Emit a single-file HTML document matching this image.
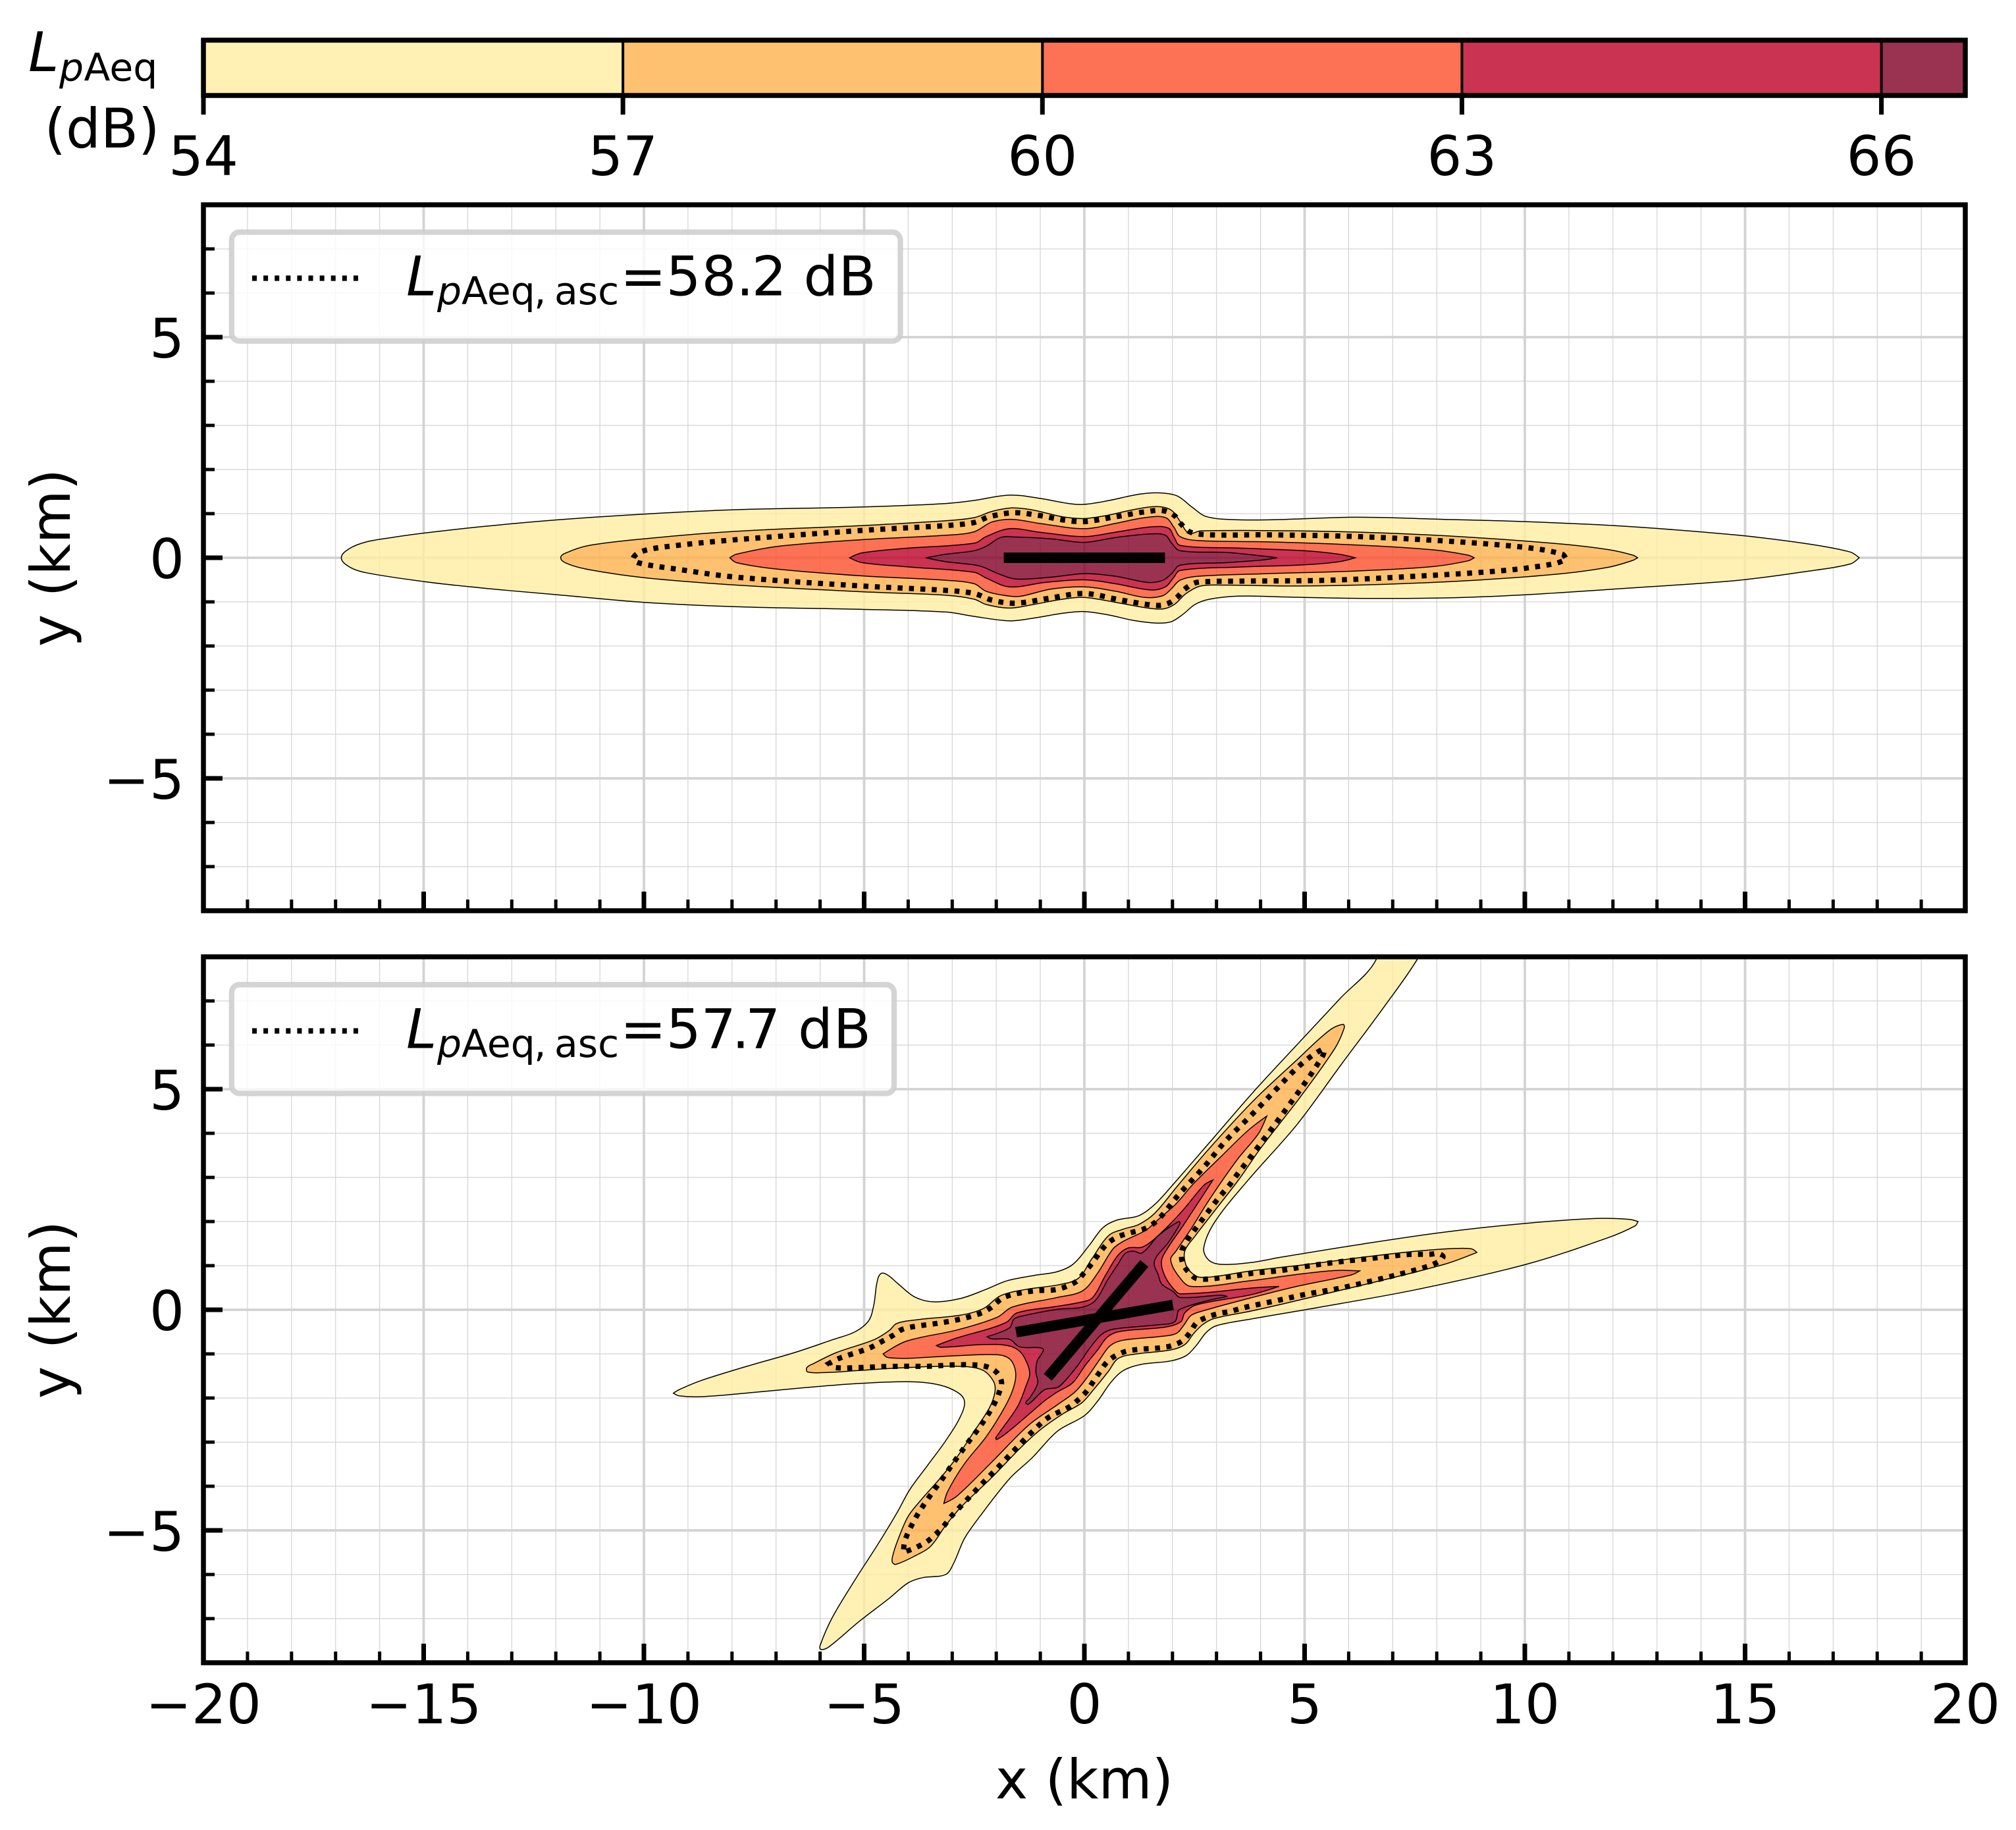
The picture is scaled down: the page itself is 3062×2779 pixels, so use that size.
<!DOCTYPE html>
<html lang="en">
<head>
<meta charset="utf-8">
<title>LpAeq noise contours</title>
<style>
html,body{margin:0;padding:0;background:#fff;}
svg{display:block;}
text{font-family:"DejaVu Sans","Liberation Sans",sans-serif;fill:#000;}
.nokern{font-kerning:none;}
</style>
</head>
<body>
<svg id="fig" xmlns="http://www.w3.org/2000/svg" width="3062" height="2779" viewBox="0 0 3062 2779">
<defs>
<clipPath id="clip-top"><rect x="309" y="311" width="2676" height="1072"/></clipPath>
<clipPath id="clip-bottom"><rect x="309" y="1453" width="2676" height="1072"/></clipPath>
</defs>
<rect x="0" y="0" width="3062" height="2779" fill="#fff"/>

<g id="colorbar"></g>
<g>
<text x="43" y="108" font-size="83.33" font-style="italic">L</text>
<text x="90" y="122.5" font-size="58.3" font-style="italic">p</text>
<text x="127.5" y="122.5" font-size="58.3">Aeq</text>
<text x="155" y="224" font-size="83.33" text-anchor="middle">(dB)</text>
</g>

<g id="top-plot"></g>
<g>
<rect x="351.8" y="352.5" width="1015.7" height="165.5" rx="12" ry="12" fill="#fff" fill-opacity="0.8" stroke="#cccccc" stroke-opacity="0.85" stroke-width="8.3"/>
<line x1="383" y1="422.5" x2="552" y2="422.5" stroke="#000" stroke-width="8.2" stroke-dasharray="7 10.1"/>
<text x="617" y="448.5" font-size="83.33" font-style="italic">L</text>
<text x="664" y="462" font-size="58.3" font-style="italic">p</text>
<text x="701" y="462" font-size="58.3">Aeq</text>
<text x="811" y="462" font-size="58.3">,</text>
<text x="842" y="462" font-size="58.3">asc</text>
<text class="nokern" x="942 1011.5 1065.5 1118.3 1141.7 1194.7 1220.5 1273.5" y="448.5" font-size="83.33">=58.2 dB</text>
</g>
<g id="top-axes"></g>

<g id="bottom-plot"></g>
<g>
<rect x="351.8" y="1495.3" width="1006.2" height="165.2" rx="12" ry="12" fill="#fff" fill-opacity="0.8" stroke="#cccccc" stroke-opacity="0.85" stroke-width="8.3"/>
<line x1="383" y1="1565.5" x2="552" y2="1565.5" stroke="#000" stroke-width="8.2" stroke-dasharray="7 10.1"/>
<text x="617" y="1591.5" font-size="83.33" font-style="italic">L</text>
<text x="664" y="1605" font-size="58.3" font-style="italic">p</text>
<text x="701" y="1605" font-size="58.3">Aeq</text>
<text x="811" y="1605" font-size="58.3">,</text>
<text x="842" y="1605" font-size="58.3">asc</text>
<text class="nokern" x="942 1011.8 1064.8 1111.7 1132.2 1185 1212 1265.8" y="1591.5" font-size="83.33">=57.7 dB</text>
</g>
<g id="bottom-axes"></g>

<text transform="translate(106 847) rotate(-90)" font-size="83.33" text-anchor="middle">y (km)</text>
<text transform="translate(106 1989) rotate(-90)" font-size="83.33" text-anchor="middle">y (km)</text>
<text x="1647" y="2731" font-size="83.33" text-anchor="middle">x (km)</text>
</svg>

<script>
/* ---------- tick values and labels ---------- */
const xMajorTicks = [-20, -15, -10, -5, 0, 5, 10, 15, 20];
const xMajorLabels = ['\u221220', '\u221215', '\u221210', '\u22125', '0', '5', '10', '15', '20'];
const yMajorTicks = [-5, 0, 5];
const yMajorLabels = ['\u22125', '0', '5'];
const xMinorTicks = [-19,-18,-17,-16,-14,-13,-12,-11,-9,-8,-7,-6,-4,-3,-2,-1,1,2,3,4,6,7,8,9,11,12,13,14,16,17,18,19];
const yMinorTicks = [-7,-6,-4,-3,-2,-1,1,2,3,4,6,7];

/* ---------- colour scale ---------- */
const colorbarBounds = [54, 57, 60, 63, 66, 66.6];
const colorbarTicks = [54, 57, 60, 63, 66];
const colorbarLabels = ['54', '57', '60', '63', '66'];
const bandColors = ['#ffeda0', '#feb24c', '#fc4e2a', '#bd0026', '#800026'];
const bandLevels = [54, 57, 60, 63, 66];

/* ---------- top panel contours, [x km, y km] ---------- */
const topLevel54 = [[-16.87,0],[-16.68,.21],[-16.3,.36],[-15.72,.46],[-14.99,.56],[-13.63,.71],[-11.96,.86],[-10,.99],[-7.9,1.09],[-5.05,1.15],[-3.14,1.23],[-2.5,1.3],[-1.7,1.42],[-1.03,1.35],[-.36,1.23],[0,1.21],[.57,1.3],[1.24,1.44],[1.71,1.47],[2.11,1.4],[2.44,1.15],[2.78,.93],[3.51,.86],[4.58,.87],[6.18,.92],[8.18,.87],[10,.82],[12.18,.72],[14.85,.51],[16.46,.31],[17.39,.13],[17.59,0],[17.39,-.14],[16.46,-.3],[14.85,-.51],[12.18,-.7],[10,-.84],[8.18,-.91],[6.18,-.92],[4.58,-.89],[3.51,-.87],[2.84,-.94],[2.51,-1.06],[2.24,-1.28],[1.97,-1.45],[1.64,-1.48],[1.11,-1.42],[.57,-1.3],[0,-1.22],[-.5,-1.26],[-1.16,-1.37],[-1.7,-1.43],[-2.5,-1.33],[-3.14,-1.23],[-5.05,-1.17],[-7.9,-1.11],[-10,-1.01],[-11.96,-.84],[-13.63,-.69],[-14.99,-.54],[-16.3,-.34],[-16.68,-.21]];
const topLevel57 = [[-11.89,0],[-11.72,.13],[-11.24,.28],[-10,.43],[-7.9,.6],[-5.05,.73],[-3.14,.84],[-2.5,.91],[-2.1,1.05],[-1.63,1.13],[-1.16,1.08],[-.5,.93],[0,.89],[.51,.96],[1.11,1.09],[1.64,1.16],[1.97,1.08],[2.17,.83],[2.37,.56],[2.64,.61],[4.84,.61],[6.85,.56],[8.85,.46],[10.85,.31],[11.92,.18],[12.45,.06],[12.56,0],[12.45,-.06],[11.92,-.21],[10.85,-.36],[8.85,-.51],[6.85,-.6],[4.84,-.64],[3.11,-.62],[2.64,-.64],[2.31,-.81],[2.04,-1.06],[1.78,-1.16],[1.38,-1.13],[.71,-1.01],[0,-.9],[-.5,-.94],[-1.16,-1.06],[-1.7,-1.14],[-2.23,-1.06],[-2.5,-.94],[-3.14,-.85],[-5.05,-.77],[-7.9,-.62],[-10,-.45],[-11.24,-.27],[-11.72,-.14]];
const topLevel60 = [[-8.05,0],[-7.9,.08],[-6.95,.26],[-5.05,.41],[-3.14,.51],[-2.5,.59],[-2.1,.81],[-1.63,.87],[-1.03,.78],[0,.66],[.71,.78],[1.38,.91],[1.84,.91],[2.04,.68],[2.17,.48],[2.58,.39],[4.18,.36],[6.18,.29],[7.91,.18],[8.71,.06],[8.85,0],[8.71,-.07],[7.91,-.2],[6.18,-.3],[4.18,-.36],[2.58,-.42],[2.17,-.51],[1.97,-.71],[1.78,-.86],[1.38,-.9],[.71,-.76],[0,-.66],[-.76,-.71],[-1.43,-.87],[-1.7,-.87],[-2.23,-.76],[-2.5,-.59],[-3.14,-.51],[-5.05,-.41],[-6.95,-.26],[-7.9,-.11]];
const topLevel63 = [[-5.33,0],[-5.05,.11],[-4.1,.21],[-2.5,.33],[-2.23,.48],[-1.7,.66],[-1.03,.58],[0,.48],[.71,.58],[1.51,.7],[1.91,.67],[2.04,.46],[2.17,.28],[3.51,.22],[4.98,.16],[5.78,.08],[6.15,0],[5.78,-.09],[4.98,-.16],[3.51,-.21],[2.17,-.29],[2.02,-.46],[1.84,-.66],[1.51,-.73],[.71,-.59],[0,-.5],[-.9,-.56],[-1.7,-.66],[-2.23,-.46],[-2.5,-.33],[-4.1,-.2],[-5.05,-.11]];
const topLevel66 = [[-3.6,0],[-3.14,.08],[-2.5,.16],[-2.23,.26],[-1.9,.46],[-1.56,.47],[-.76,.43],[0,.35],[.71,.46],[1.51,.54],[1.84,.51],[1.98,.33],[2.17,.16],[3.24,.12],[4.04,.04],[4.38,0],[4.04,-.05],[3.24,-.11],[2.17,-.17],[1.98,-.36],[1.78,-.51],[1.45,-.56],[.71,-.42],[0,-.36],[-.76,-.44],[-1.56,-.48],[-1.96,-.36],[-2.3,-.21],[-2.5,-.16],[-3.14,-.09]];
const topAscentContour = [[-10.24,0],[-10,.16],[-9.24,.28],[-7.9,.41],[-5.05,.62],[-3.14,.73],[-2.5,.8],[-2.16,.93],[-1.6,1.02],[-1.03,.96],[-.5,.86],[0,.82],[.71,.93],[1.37,1.04],[1.77,1.07],[2.04,.96],[2.2,.76],[2.41,.58],[2.84,.52],[4.18,.52],[6.18,.48],[8.18,.38],[10.05,.23],[10.85,.08],[10.94,-.04],[10.65,-.14],[9.52,-.29],[7.51,-.42],[5.51,-.51],[3.51,-.53],[2.78,-.54],[2.51,-.57],[2.28,-.71],[2.11,-.89],[1.91,-1.03],[1.64,-1.08],[.84,-.96],[0,-.81],[-.76,-.91],[-1.56,-1.03],[-2.1,-.96],[-2.5,-.81],[-3.14,-.74],[-5.05,-.64],[-7.9,-.44],[-9.24,-.26],[-10.14,-.11]];
const topRunwayStart = [-1.83, 0];
const topRunwayEnd = [1.83, 0];

/* ---------- bottom panel contours, [x km, y km] ---------- */
const bottomLevel54 = [[6.45,8.3],[6.62,7.93],[5.81,7.06],[4.82,6],[3.83,4.93],[2.84,3.79],[1.97,2.79],[1.6,2.39],[1.23,2.13],[.73,2.03],[.42,1.86],[.11,1.46],[-.26,1.03],[-.63,.86],[-1.13,.78],[-1.75,.66],[-2.24,.46],[-2.8,.26],[-3.42,.18],[-3.85,.29],[-4.23,.59],[-4.47,.79],[-4.62,.82],[-4.71,.61],[-4.78,.11],[-4.9,-.25],[-5.21,-.5],[-5.72,-.68],[-6.58,-.97],[-7.69,-1.29],[-8.72,-1.61],[-9.2,-1.81],[-9.33,-1.89],[-9.2,-1.95],[-8.72,-1.97],[-7.69,-1.89],[-6.41,-1.77],[-5.12,-1.67],[-4,-1.63],[-3.4,-1.68],[-2.97,-1.82],[-2.73,-2.04],[-2.8,-2.39],[-3.15,-2.97],[-3.57,-3.54],[-3.96,-4.07],[-4.26,-4.61],[-4.69,-5.32],[-5.2,-6.11],[-5.72,-6.97],[-6,-7.61],[-5.98,-7.7],[-5.8,-7.64],[-5.12,-7.07],[-4.43,-6.54],[-4,-6.19],[-3.66,-6.07],[-3.15,-6],[-2.97,-5.75],[-2.72,-5.18],[-2.37,-4.68],[-1.69,-3.82],[-1.18,-3.35],[-.61,-2.75],[0,-2.4],[.31,-2.06],[.59,-1.66],[.88,-1.38],[1.28,-1.24],[1.96,-1.16],[2.31,-1.04],[2.54,-.81],[2.77,-.51],[3,-.36],[3.78,-.21],[5.07,.01],[7.55,.46],[10.03,1.03],[11.88,1.63],[12.5,1.9],[12.57,2],[12.38,2.05],[11.64,2.07],[10.03,1.96],[8.17,1.76],[6.31,1.49],[4.45,1.19],[3.78,1.07],[3.1,1.03],[2.82,1.13],[2.71,1.4],[2.96,1.99],[3.71,2.93],[4.82,4.19],[5.81,5.53],[6.8,6.86],[7.55,7.93],[7.68,8.3]];
const bottomLevel57 = [[5.87,6.47],[5.56,6.33],[4.82,5.66],[3.83,4.73],[2.84,3.66],[2.1,2.79],[1.6,2.19],[1.23,1.93],[.89,1.83],[.55,1.68],[.16,1.14],[-.14,.71],[-.57,.57],[-1.34,.46],[-1.9,.32],[-2.29,.03],[-2.8,-.12],[-3.75,-.22],[-4.26,-.31],[-4.43,-.47],[-4.78,-.68],[-5.63,-.97],[-6.15,-1.22],[-6.3,-1.31],[-6.28,-1.41],[-5.81,-1.42],[-5.19,-1.38],[-4.04,-1.31],[-2.9,-1.28],[-2.33,-1.36],[-2.07,-1.61],[-2.03,-1.86],[-2.16,-2.23],[-2.5,-2.75],[-2.9,-3.35],[-3.3,-3.85],[-3.7,-4.3],[-4,-4.68],[-4.22,-5.18],[-4.35,-5.57],[-4.36,-5.72],[-4.28,-5.77],[-3.83,-5.57],[-3.49,-5.36],[-3.15,-4.89],[-2.8,-4.47],[-2.12,-3.82],[-1.43,-3.11],[-1,-2.72],[-.49,-2.36],[-.06,-2.11],[.2,-1.82],[.55,-1.39],[.76,-1.11],[1.11,-1.01],[1.96,-.91],[2.28,-.79],[2.48,-.54],[2.68,-.34],[2.94,-.2],[3.78,-.03],[4.45,.12],[6.31,.56],[8.17,1.03],[8.91,1.3],[8.79,1.38],[8.41,1.39],[7.55,1.33],[6.31,1.19],[5.07,1.03],[3.78,.88],[3,.76],[2.6,.74],[2.42,.85],[2.3,1.03],[2.28,1.33],[2.52,1.68],[2.9,2.17],[3.52,2.97],[4,3.66],[4.93,4.86],[5.69,5.93],[5.9,6.39]];
const bottomLevel60 = [[4.14,4.39],[3.71,4.06],[3.09,3.46],[2.47,2.85],[2.08,2.4],[1.68,2.05],[1.39,1.8],[.88,1.55],[.65,1.38],[.3,.83],[-.04,.43],[-.61,.28],[-1.64,.06],[-1.98,-.17],[-2.9,-.46],[-4.04,-.71],[-4.57,-1],[-4.47,-1.08],[-4.04,-1.1],[-2.9,-1.04],[-1.98,-1.02],[-1.7,-1.11],[-1.57,-1.36],[-1.58,-1.66],[-1.75,-2.1],[-2.21,-2.85],[-2.73,-3.5],[-3.1,-4.11],[-3.19,-4.39],[-2.89,-4.22],[-2.12,-3.47],[-1.26,-2.61],[-.61,-2.15],[-.21,-1.86],[.08,-1.51],[.36,-1.11],[.59,-.81],[.88,-.69],[1.68,-.61],[2.08,-.54],[2.25,-.36],[2.42,-.13],[2.71,-.02],[3.78,.27],[4.82,.53],[6.06,.79],[6.25,.88],[5.69,.89],[4.82,.8],[3.78,.66],[2.42,.53],[2.15,.75],[1.96,1.13],[2.08,1.33],[2.42,1.83],[2.84,2.5],[3.46,3.39],[3.95,3.99]];
const bottomLevel63 = [[2.92,2.94],[2.71,2.82],[2.25,2.27],[1.8,1.8],[1.34,1.43],[.99,1.4],[.76,1.23],[.48,.78],[.19,.28],[-.04,.18],[-.61,.08],[-1.53,-.07],[-1.75,-.27],[-2.1,-.41],[-2.9,-.64],[-3.36,-.81],[-3.24,-.85],[-2.33,-.79],[-1.75,-.81],[-1.47,-.94],[-1.3,-1.21],[-1.24,-1.46],[-1.3,-1.66],[-1.52,-2.2],[-2.01,-2.9],[-1.99,-2.94],[-1.75,-2.78],[-1.18,-2.3],[-.9,-2.06],[-.61,-1.86],[-.27,-1.66],[.02,-1.26],[.3,-.91],[.53,-.61],[.82,-.49],[1.85,-.39],[2.19,-.27],[2.28,-.07],[2.54,.11],[3.78,.34],[4.42,.53],[3.9,.5],[2.19,.36],[2.02,.48],[1.82,.78],[1.75,1.1],[1.88,1.38],[2.25,1.92],[2.71,2.62]];
const bottomLevel66 = [[2.14,2],[1.68,1.68],[1.31,1.29],[1.11,1.33],[.93,1.28],[.76,1.03],[.53,.68],[.25,.21],[-.04,.06],[-.61,.01],[-1.41,-.14],[-1.6,-.21],[-1.7,-.41],[-2.21,-.61],[-2.1,-.66],[-1.7,-.67],[-1.47,-.84],[-1.01,-.86],[-.93,-.91],[-1.07,-1.16],[-1.1,-1.41],[-1.06,-1.66],[-1.24,-2],[-1.33,-2.1],[-1.27,-2.14],[-.9,-1.81],[-.61,-1.76],[-.44,-1.61],[-.15,-1.26],[.13,-.86],[.39,-.56],[.65,-.44],[1.68,-.34],[2.05,-.27],[2.17,.01],[3.25,.3],[3.11,.33],[2.17,.28],[2.02,.41],[1.76,.58],[1.68,.78],[1.59,1.1],[1.91,1.53],[2.17,1.95]];
const bottomAscentContour = [[5.38,5.89],[4.88,5.53],[4.32,4.96],[3.77,4.39],[3.21,3.83],[2.71,3.23],[2.16,2.63],[1.66,2.03],[1.35,1.83],[.98,1.73],[.71,1.63],[.48,1.46],[.17,1.05],[-.01,.83],[-.2,.63],[-.63,.46],[-1.13,.43],[-1.81,.29],[-2.12,.05],[-2.33,-.07],[-2.85,-.22],[-3.36,-.31],[-3.87,-.38],[-4.15,-.45],[-4.36,-.59],[-4.6,-.72],[-4.82,-.84],[-5.08,-.94],[-5.33,-1.02],[-5.59,-1.11],[-5.8,-1.22],[-5.65,-1.31],[-5.12,-1.31],[-4.6,-1.29],[-4.09,-1.28],[-3.53,-1.28],[-3.02,-1.25],[-2.5,-1.25],[-2.22,-1.29],[-2,-1.41],[-1.88,-1.64],[-1.94,-1.89],[-2.05,-2.14],[-2.33,-2.59],[-2.65,-3.02],[-2.96,-3.45],[-3.26,-3.88],[-3.57,-4.31],[-3.85,-4.75],[-4.07,-5.22],[-4.11,-5.5],[-3.83,-5.39],[-3.57,-5.25],[-3.38,-5.09],[-3.2,-4.91],[-3.03,-4.69],[-2.84,-4.49],[-2.67,-4.31],[-2.31,-3.93],[-1.94,-3.55],[-1.58,-3.17],[-1.21,-2.79],[-.83,-2.45],[-.34,-2.2],[-.14,-2.04],[.05,-1.85],[.2,-1.63],[.35,-1.41],[.51,-1.19],[.71,-1.04],[.95,-.94],[1.21,-.9],[1.48,-.88],[1.74,-.86],[2,-.81],[2.23,-.7],[2.41,-.5],[2.55,-.29],[2.78,-.17],[3.03,-.09],[3.29,-.04],[3.71,.07],[4.33,.2],[5.07,.36],[5.81,.49],[6.68,.69],[7.36,.86],[7.92,1.03],[8.14,1.19],[8.04,1.27],[7.86,1.26],[7.3,1.25],[6.56,1.17],[5.81,1.09],[5.07,.99],[4.45,.89],[3.83,.83],[3.21,.74],[2.58,.7],[2.38,.84],[2.23,1.06],[2.21,1.33],[2.32,1.55],[2.48,1.78],[2.63,1.98],[2.79,2.2],[2.95,2.41],[3.12,2.62],[3.29,2.82],[3.45,3.04],[3.77,3.46],[4.39,4.29],[5,5.13],[5.29,5.56],[5.44,5.83]];
const bottomRunwayAStart = [-1.55, -.51];
const bottomRunwayAEnd = [2.01, .11];
const bottomRunwayBStart = [-.83, -1.53];
const bottomRunwayBEnd = [1.36, 1.05];

/* ---------- axis functions ---------- */
const SVGNS = 'http://www.w3.org/2000/svg';
const axisLeft = 309, axisRight = 2985;
function sx(km) { return axisLeft + (km + 20) / 40 * (axisRight - axisLeft); }
function syFactory(top, bottom) { return function (km) { return bottom - (km + 8) / 16 * (bottom - top); }; }
function scaleColor(v) { return axisLeft + (v - colorbarBounds[0]) / (colorbarBounds[colorbarBounds.length - 1] - colorbarBounds[0]) * (axisRight - axisLeft); }

function mk(tag, attrs, parent) {
  const el = document.createElementNS(SVGNS, tag);
  for (const k in attrs) el.setAttribute(k, attrs[k]);
  parent.appendChild(el);
  return el;
}

/* smooth closed path through contour points; very sharp turns stay pointed */
function smoothPath(points, sy) {
  const p = points.map(function (q) { return [sx(q[0]), sy(q[1])]; });
  const n = p.length;
  function unit(a, b) {
    const dx = b[0] - a[0], dy = b[1] - a[1];
    const l = Math.hypot(dx, dy) || 1;
    return [dx / l, dy / l];
  }
  function tangent(i) {
    const a = p[(i - 1 + n) % n], c = p[i], b = p[(i + 1) % n];
    const u = unit(a, c), v = unit(c, b);
    if (u[0] * v[0] + u[1] * v[1] < -0.3) return [0, 0];
    return unit(a, b);
  }
  let d = 'M' + p[0][0].toFixed(1) + ' ' + p[0][1].toFixed(1);
  for (let i = 0; i < n; i++) {
    const a = p[i], b = p[(i + 1) % n];
    const seg = Math.hypot(b[0] - a[0], b[1] - a[1]) / 3;
    const ta = tangent(i), tb = tangent((i + 1) % n);
    d += 'C' + (a[0] + ta[0] * seg).toFixed(1) + ' ' + (a[1] + ta[1] * seg).toFixed(1) + ' ' +
         (b[0] - tb[0] * seg).toFixed(1) + ' ' + (b[1] - tb[1] * seg).toFixed(1) + ' ' +
         b[0].toFixed(1) + ' ' + b[1].toFixed(1);
  }
  return d + 'Z';
}

function drawPlot(parent, clipId, top, bottom, levels, ascent, runways, prefix) {
  const sy = syFactory(top, bottom);
  /* grid */
  xMinorTicks.forEach(function (v) {
    const el = mk('line', {x1: sx(v), x2: sx(v), y1: top, y2: bottom, stroke: '#d3d3d3', 'stroke-width': 1.2}, parent);
    
    
  });
  yMinorTicks.forEach(function (v) {
    const el = mk('line', {x1: axisLeft, x2: axisRight, y1: sy(v), y2: sy(v), stroke: '#d3d3d3', 'stroke-width': 1.2}, parent);
    
    
  });
  xMajorTicks.forEach(function (v) {
    const el = mk('line', {x1: sx(v), x2: sx(v), y1: top, y2: bottom, stroke: '#d3d3d3', 'stroke-width': 3.8}, parent);
    
    
  });
  yMajorTicks.forEach(function (v) {
    const el = mk('line', {x1: axisLeft, x2: axisRight, y1: sy(v), y2: sy(v), stroke: '#d3d3d3', 'stroke-width': 3.8}, parent);
    
    
  });
  /* filled bands and contour lines */
  const clipped = mk('g', {'clip-path': 'url(#' + clipId + ')'}, parent);
  
  
  const paths = levels.map(function (pts) { return smoothPath(pts, sy); });
  paths.forEach(function (d, i) {
    const full = i + 1 < paths.length ? d + paths[i + 1] : d;
    const band = mk('path', {d: full, fill: bandColors[i], 'fill-opacity': 0.8, 'fill-rule': 'evenodd', stroke: 'none'}, clipped);
    
    
  });
  paths.forEach(function (d, i) {
    const line = mk('path', {d: d, fill: 'none', stroke: '#000', 'stroke-width': 1.5}, clipped);
    
    
  });
  const dotted = mk('path', {d: smoothPath(ascent, sy), fill: 'none', stroke: '#000', 'stroke-width': 8, 'stroke-dasharray': '7.5 9.8'}, clipped);
  
  
  runways.forEach(function (r) {
    const rw = mk('line', {x1: sx(r[0][0]), y1: sy(r[0][1]), x2: sx(r[1][0]), y2: sy(r[1][1]), stroke: '#000', 'stroke-width': 16}, clipped);
    
    
  });
}

function drawAxes(parent, top, bottom, showXLabels, prefix) {
  const sy = syFactory(top, bottom);
  xMinorTicks.forEach(function (v) {
    const el = mk('line', {x1: sx(v), x2: sx(v), y1: bottom, y2: bottom - 17, stroke: '#000', 'stroke-width': 5}, parent);
    
    
  });
  yMinorTicks.forEach(function (v) {
    const el = mk('line', {x1: axisLeft, x2: axisLeft + 17, y1: sy(v), y2: sy(v), stroke: '#000', 'stroke-width': 5}, parent);
    
    
  });
  xMajorTicks.forEach(function (v, i) {
    const el = mk('line', {x1: sx(v), x2: sx(v), y1: bottom, y2: bottom - 29, stroke: '#000', 'stroke-width': 7}, parent);
    
    
    if (showXLabels) {
      const t = mk('text', {x: sx(v), y: bottom + 92, 'font-size': 83.33, 'text-anchor': 'middle'}, parent);
      
      
      t.textContent = xMajorLabels[i];
    }
  });
  yMajorTicks.forEach(function (v, i) {
    const el = mk('line', {x1: axisLeft, x2: axisLeft + 29, y1: sy(v), y2: sy(v), stroke: '#000', 'stroke-width': 7}, parent);
    
    
    const t = mk('text', {x: 280, y: sy(v) + 31, 'font-size': 83.33, 'text-anchor': 'end'}, parent);
    
    
    t.textContent = yMajorLabels[i];
  });
  const frame = mk('rect', {x: axisLeft, y: top, width: axisRight - axisLeft, height: bottom - top, fill: 'none', stroke: '#000', 'stroke-width': 7.5}, parent);
  
  
}

function drawColorbar(parent) {
  const top = 61, bottom = 145;
  bandColors.forEach(function (c, i) {
    const x0 = scaleColor(colorbarBounds[i]), x1 = scaleColor(colorbarBounds[i + 1]);
    const seg = mk('rect', {x: x0, y: top, width: x1 - x0, height: bottom - top, fill: c, 'fill-opacity': 0.8}, parent);
    
    
  });
  colorbarTicks.forEach(function (v, i) {
    const x = scaleColor(v);
    if (i > 0) {
      const div = mk('line', {x1: x, x2: x, y1: top, y2: bottom, stroke: '#000', 'stroke-width': 4}, parent);
      
      
    }
    const tick = mk('line', {x1: x, x2: x, y1: bottom, y2: bottom + 29, stroke: '#000', 'stroke-width': 7}, parent);
    
    
    const t = mk('text', {x: x, y: 266, 'font-size': 83.33, 'text-anchor': 'middle'}, parent);
    
    
    t.textContent = colorbarLabels[i];
  });
  const frame = mk('rect', {x: axisLeft, y: top, width: axisRight - axisLeft, height: bottom - top, fill: 'none', stroke: '#000', 'stroke-width': 7.5}, parent);
  
  
}

drawColorbar(document.getElementById('colorbar'));
drawPlot(document.getElementById('top-plot'), 'clip-top', 311, 1383,
  [topLevel54, topLevel57, topLevel60, topLevel63, topLevel66], topAscentContour,
  [[topRunwayStart, topRunwayEnd]], 'top');
drawAxes(document.getElementById('top-axes'), 311, 1383, false, 'top');
drawPlot(document.getElementById('bottom-plot'), 'clip-bottom', 1453, 2525,
  [bottomLevel54, bottomLevel57, bottomLevel60, bottomLevel63, bottomLevel66], bottomAscentContour,
  [[bottomRunwayAStart, bottomRunwayAEnd], [bottomRunwayBStart, bottomRunwayBEnd]], 'bottom');
drawAxes(document.getElementById('bottom-axes'), 1453, 2525, true, 'bottom');
</script>
</body>
</html>
